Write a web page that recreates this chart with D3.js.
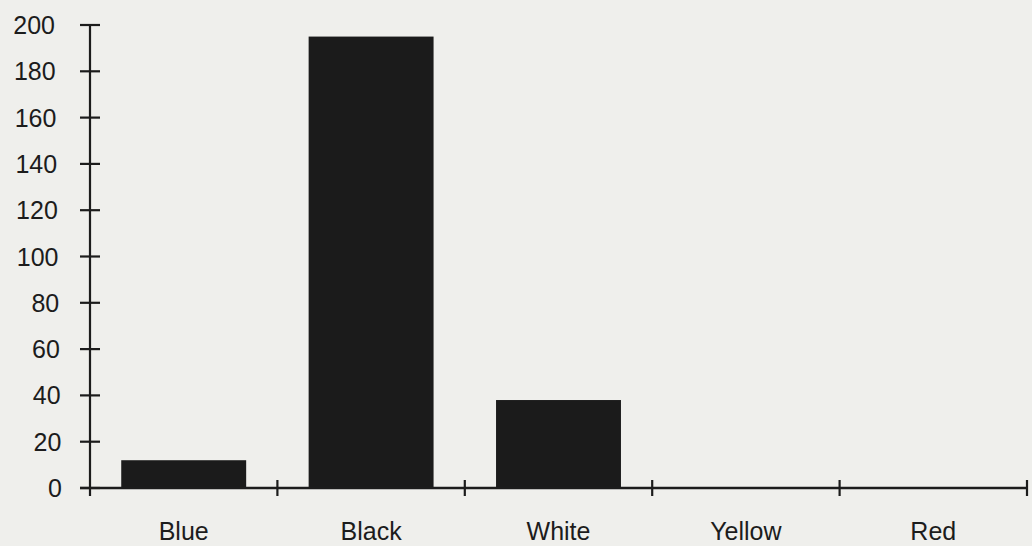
<!DOCTYPE html>
<html><head><meta charset="utf-8">
<script src="https://cdn.jsdelivr.net/npm/d3@7"></script>
<style>
html,body{margin:0;padding:0;background:#efefec;}
svg{display:block;}
text{font-family:"Liberation Sans",Arial,Helvetica,sans-serif;fill:#1c1c1c;}
</style></head>
<body>
<script>
const categories = ["Blue","Black","White","Yellow","Red"];
const values = [12,195,38,0,0];
const yTicks = [0,20,40,60,80,100,120,140,160,180,200];

const W = 1032, H = 546;
const svg = d3.select("body").append("svg").attr("width",W).attr("height",H);
svg.append("rect").attr("width",W).attr("height",H).attr("fill","#efefec");

const x = d3.scaleBand().domain(categories).range([90,1027]).paddingInner(1/3).paddingOuter(1/6);
const y = d3.scaleLinear().domain([0,200]).range([488,25]);

// bars
svg.selectAll("rect.bar").data(categories).enter().append("rect")
  .attr("class","bar")
  .attr("x",d=>x(d)).attr("width",x.bandwidth())
  .attr("y",(d,i)=>y(values[i])).attr("height",(d,i)=>y(0)-y(values[i]))
  .attr("fill","#1b1b1b");

const ink = "#1c1c1c";
// y axis line
svg.append("line").attr("x1",90).attr("x2",90).attr("y1",y(200)).attr("y2",y(0)+8)
  .attr("stroke",ink).attr("stroke-width",2.2);
// y ticks
svg.selectAll("line.yt").data(yTicks).enter().append("line")
  .attr("x1",80).attr("x2",100).attr("y1",d=>y(d)).attr("y2",d=>y(d))
  .attr("stroke",ink).attr("stroke-width",2.2);
svg.selectAll("text.yl").data(yTicks).enter().append("text")
  .attr("x",d=>62-7*d/200).attr("y",d=>y(d)).attr("dy","0.36em")
  .attr("text-anchor","end").attr("font-size",25).text(d=>d);

// x axis line
svg.append("line").attr("x1",80).attr("x2",1027).attr("y1",y(0)).attr("y2",y(0))
  .attr("stroke",ink).attr("stroke-width",2.4);
// x ticks at band boundaries
const gap = x.step()-x.bandwidth();
const bounds = categories.map(d=>x(d)-gap/2).concat([x.range()[1]]);
svg.selectAll("line.xt").data(bounds.slice(1)).enter().append("line")
  .attr("x1",d=>d).attr("x2",d=>d).attr("y1",y(0)-8).attr("y2",y(0)+8)
  .attr("stroke",ink).attr("stroke-width",2.2);
// x labels
svg.selectAll("text.xl").data(categories).enter().append("text")
  .attr("x",d=>x(d)+x.bandwidth()/2).attr("y",540)
  .attr("text-anchor","middle").attr("font-size",25).text(d=>d);
</script>
</body></html>
